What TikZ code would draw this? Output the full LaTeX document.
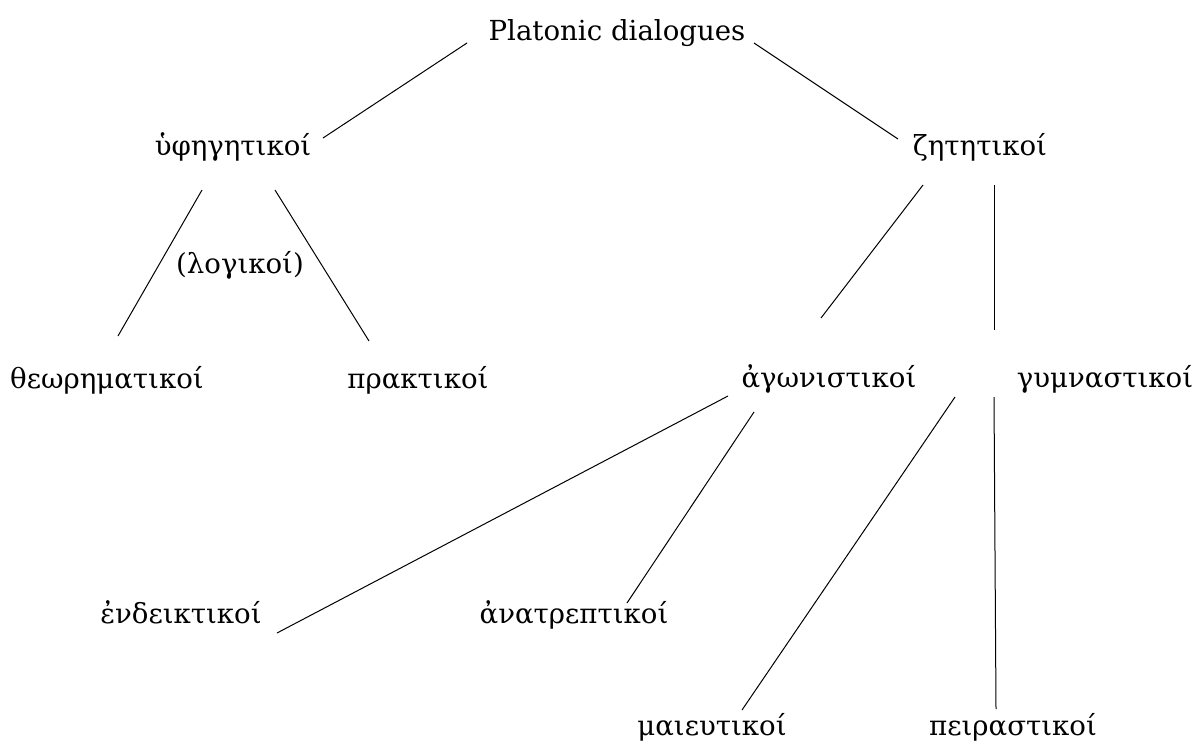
\documentclass[tikz,border=0pt]{standalone}
\usepackage{fontspec}
\setmainfont{DejaVu Serif}
\begin{document}
\begin{tikzpicture}[x=1pt,y=-1pt,
  lbl/.style={anchor=base,inner sep=0pt,font=\fontsize{27.6}{32}\selectfont},
  edge/.style={line width=1pt,black}]
\useasboundingbox (0,0) rectangle (1193,744);
% labels
\node[lbl] (root) at (617,40) {Platonic dialogues};
\node[lbl] (hyph) at (233,155) {ὑφηγητικοί};
\node[lbl] (zet) at (980,155) {ζητητικοί};
\node[lbl] (log) at (240,273) {(λογικοί)};
\node[lbl] (theo) at (107,388) {θεωρηματικοί};
\node[lbl] (prak) at (418,388) {πρακτικοί};
\node[lbl] (agon) at (829,387) {ἀγωνιστικοί};
\node[lbl] (gymn) at (1105,387) {γυμναστικοί};
\node[lbl] (ende) at (181,623) {ἐνδεικτικοί};
\node[lbl] (anat) at (574,623) {ἀνατρεπτικοί};
\node[lbl] (maie) at (712,735) {μαιευτικοί};
\node[lbl] (peir) at (1013,735) {πειραστικοί};
% connector end points
\coordinate (rootL) at (467,43);  \coordinate (hyphT) at (323,138);
\coordinate (rootR) at (754,43);  \coordinate (zetT) at (898,139);
\coordinate (hyphBL) at (202,190); \coordinate (theoT) at (118,336);
\coordinate (hyphBR) at (275,190); \coordinate (prakT) at (369,341);
\coordinate (zetBL) at (923,185); \coordinate (agonT) at (821,318);
\coordinate (zetBR) at (994,185); \coordinate (gymnT) at (994,330);
\coordinate (agonB1) at (728,396); \coordinate (endeT) at (277,633);
\coordinate (agonB2) at (754,412); \coordinate (anatT) at (627,603);
\coordinate (gymnB1) at (955,397); \coordinate (maieT) at (742,710);
\coordinate (gymnB2) at (994,397); \coordinate (peirT) at (996,709);
% connectors
\draw[edge] (rootL) -- (hyphT);
\draw[edge] (rootR) -- (zetT);
\draw[edge] (hyphBL) -- (theoT);
\draw[edge] (hyphBR) -- (prakT);
\draw[edge] (zetBL) -- (agonT);
\draw[edge] (zetBR) -- (gymnT);
\draw[edge] (agonB1) -- (endeT);
\draw[edge] (agonB2) -- (anatT);
\draw[edge] (gymnB1) -- (maieT);
\draw[edge] (gymnB2) -- (peirT);
\end{tikzpicture}
\end{document}
